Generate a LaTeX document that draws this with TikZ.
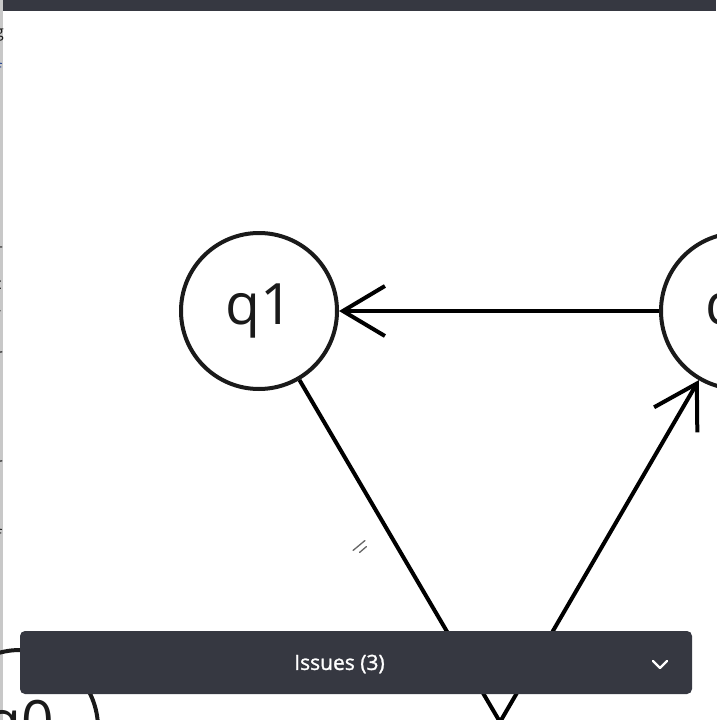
\documentclass[tikz,border=0pt]{standalone}
\usepackage{fontspec}
\setmainfont{Open Sans}
\newfontfamily\uifont{Open Sans}[FakeBold=1.3]
\usetikzlibrary{arrows.meta}
\definecolor{barc}{HTML}{363841}
\definecolor{inkc}{HTML}{1A1A1A}
\definecolor{stripc}{HTML}{C8C8C8}
\definecolor{linkc}{HTML}{1F3F8F}
\tikzset{
  state/.style={circle,draw=inkc,line width=4pt,minimum size=156pt,inner sep=0pt,font=\fontsize{57}{60}\selectfont,text=inkc},
  edge/.style={draw=black,line width=4pt},
  barb/.style={-{Straight Barb[length=42pt 0 0,width=50pt 0 0,line width=4pt]}},
  frag/.style={anchor=west,inner sep=0pt,font=\fontsize{16}{18}\selectfont,text=inkc}
}
\begin{document}
\begin{tikzpicture}[x=1pt,y=-1pt]
\useasboundingbox (0,0) rectangle (716,720);
\fill[white] (0,0) rectangle (716,720);
% left strip
\fill[stripc] (0,0) rectangle (3,720);
\begin{scope}
\clip (0,0) rectangle (5,720);
\node[frag] (f1) at (-5,35) {g};
\node[frag,text=linkc] (f2) at (-4,69) {f};
\node[frag] (f3) at (-5,247) {\_};
\node[frag] (f4) at (-6,285) {c};
\node[frag] (f5) at (-4,313) {-};
\node[frag] (f6) at (-4,356) {r};
\node[frag] (f7) at (-3,431) {l};
\node[frag] (f8) at (-4,465) {r};
\node[frag] (f9) at (-4,535) {f};
\end{scope}
% top bar
\fill[barc] (3,0) rectangle (716,11);
% states
\node[state] (q1) at (259,311) {q1};
\node[state] (q2) at (739,311) {q2};
\node[state] (q0) at (20,728) {q0};
\coordinate (b) at (500,722);
% connectors
\draw[edge,barb] (q2) -- (q1);
\draw[edge] (q1) -- (b);
\draw[edge,barb] (b) -- (q2);
% small handle mark
\draw[gray!80!black,line width=1.3pt,line cap=round] (353,550.5) -- (365,540.5);
\draw[gray!80!black,line width=1.3pt,line cap=round] (359.5,552.5) -- (366.5,546.5);
% issues bar
\node[fill=barc,rounded corners=5pt,minimum width=672pt,minimum height=63pt,inner sep=0pt] (bar) at (356,662.5) {};
\node[text=white,font=\uifont\fontsize{21}{23}\selectfont] (iss) at (339.5,664) {Issues (3)};
\coordinate (chl) at (653,661);
\coordinate (chm) at (660,668);
\coordinate (chr) at (667,661);
\draw[white,line width=2.2pt,line cap=round,line join=round] (chl) -- (chm) -- (chr);
\end{tikzpicture}
\end{document}
